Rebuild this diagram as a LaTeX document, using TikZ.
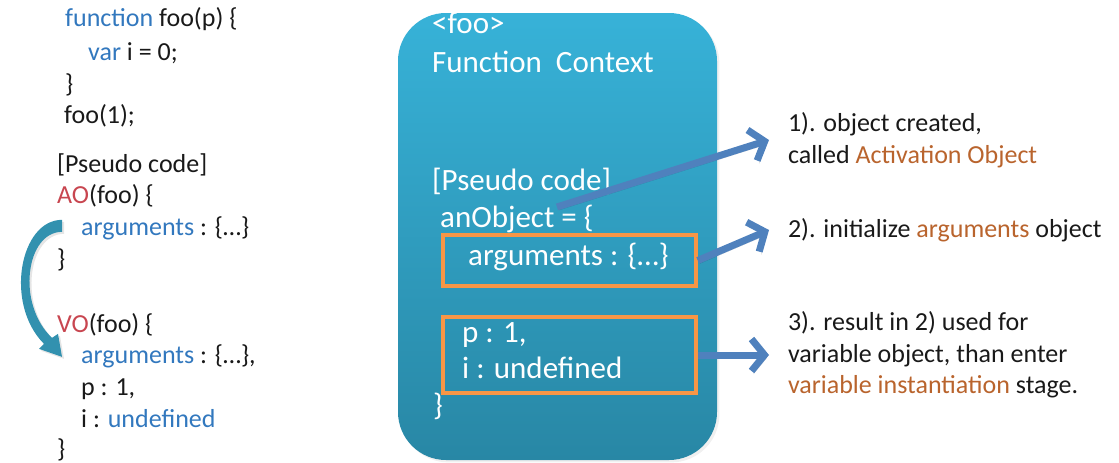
\documentclass[tikz,border=0pt]{standalone}
\usepackage{fontspec}
\setmainfont{Carlito}
\usetikzlibrary{arrows.meta,shadows}

\definecolor{kodmavi}{RGB}{50,120,190}
\definecolor{kodkirmizi}{RGB}{200,70,80}
\definecolor{kahve}{RGB}{185,100,45}
\definecolor{kutuust}{RGB}{55,178,216}
\definecolor{kutualt}{RGB}{40,135,165}
\definecolor{turuncu}{RGB}{247,150,70}
\definecolor{okmavi}{RGB}{79,129,189}
\definecolor{camgobegi}{RGB}{50,145,175}

\tikzset{
    kod/.style={anchor=base west, inner sep=0pt, text=black!90, font=\fontsize{26}{32}\selectfont},
    icerik/.style={anchor=base west, inner sep=0pt, text=white, font=\fontsize{31}{37}\selectfont},
    aciklama/.style={anchor=west, inner sep=0pt, outer xsep=19pt, align=left, text=black!90, font=\fontsize{26}{31.5}\selectfont},
    baglam/.style={rounded corners=48pt, top color=kutuust, bottom color=kutualt, minimum width=319pt, minimum height=447pt, drop shadow={opacity=.12}},
    cerceve/.style={draw=turuncu, line width=3.5pt, minimum width=253pt},
    ok/.style={draw=okmavi, line width=7pt, -{Straight Barb[length=13pt,width=32pt,line width=7pt]},
        preaction={draw=black, opacity=.15, transform canvas={shift={(2pt,-3pt)}}}},
    donusok/.style={fill=camgobegi,
        preaction={fill=black, opacity=.1, transform canvas={shift={(2pt,-2pt)}}}}
}

\begin{document}
\begin{tikzpicture}[x=1pt, y=-1pt]
        \useasboundingbox (0,0) rectangle (1119,463);

        % Sol taraf: kaynak kod
        \node[kod] (f1) at (65,27) {\textcolor{kodmavi}{function} foo(p) \{};
        \node[kod] (f2) at (88,60) {\textcolor{kodmavi}{var} i = 0;};
        \node[kod] (f3) at (65,92) {\}};
        \node[kod] (f4) at (64,123) {foo(1);};

        % Sol taraf: AO ve VO
        \node[kod] (p1) at (57,172) {[Pseudo code]};
        \node[kod] (ao) at (57,203) {\textcolor{kodkirmizi}{AO}(foo) \{};
        \node[kod] (aoarg) at (81,235) {\textcolor{kodmavi}{arguments} : \{…\}};
        \node[kod] (ao2) at (57,267) {\}};
        \node[kod] (vo) at (57,332) {\textcolor{kodkirmizi}{VO}(foo) \{};
        \node[kod] (voarg) at (81,363) {\textcolor{kodmavi}{arguments} : \{…\},};
        \node[kod] (vop) at (81,395) {p : 1,};
        \node[kod] (voi) at (81,427) {i : \textcolor{kodmavi}{undefined}};
        \node[kod] (vo2) at (57,457) {\}};

        % AO'dan VO'ya kivrik ok (basta kalin, sonda ince)
        \fill[donusok] ([shift={(-19,-8)}]aoarg.west)
            .. controls ([shift={(-61,-8)}]aoarg.west) and ([shift={(-77,-52)}]voarg.west) .. ([shift={(-37,-12)}]voarg.west)
            -- ([shift={(-42,-7)}]voarg.west) -- ([shift={(-19,1)}]voarg.west) -- ([shift={(-23,-22)}]voarg.west)
            -- ([shift={(-29,-18)}]voarg.west)
            .. controls ([shift={(-65,-52)}]voarg.west) and ([shift={(-55,4)}]aoarg.west) .. ([shift={(-19,4)}]aoarg.west)
            -- cycle;

        % Fonksiyon baglami kutusu
        \node[baglam] (ctx) at (557.5,236.5) {};
        \node[cerceve, minimum height=51pt] (b1) at (569.5,260.5) {};
        \node[cerceve, minimum height=76pt] (b2) at (569.5,355) {};

        \node[icerik] (c1) at (432,33) {<foo>};
        \node[icerik] (c2) at (432,72) {Function~~Context};
        \node[icerik] (c3) at (432,190) {[Pseudo code]};
        \node[icerik] (c4) at (440,227) {anObject = \{};
        \node[icerik] (c5) at (468,265) {arguments : \{…\}};
        \node[icerik] (c6) at (462,342) {p : 1,};
        \node[icerik] (c7) at (462,378) {i : undefined};
        \node[icerik] (c8) at (433,415) {\}};
        \coordinate (aobas) at (557,207);

        % Sag taraf: aciklamalar
        \node[aciklama] (t1) at (769,140) {1). object created,\\called \textcolor{kahve}{Activation Object}};
        \node[aciklama] (t2) at (769,230) {2). initialize \textcolor{kahve}{arguments} object};
        \node[aciklama] (t3) at (769,355) {3). result in 2) used for\\variable object, than enter\\\textcolor{kahve}{variable instantiation} stage.};

        % Oklar
        \draw[ok] (aobas) -- (t1.west);
        \draw[ok] (b1.east) -- (t2.west);
        \draw[ok] (b2.east) -- (t3.west);
    \end{tikzpicture}
\end{document}
